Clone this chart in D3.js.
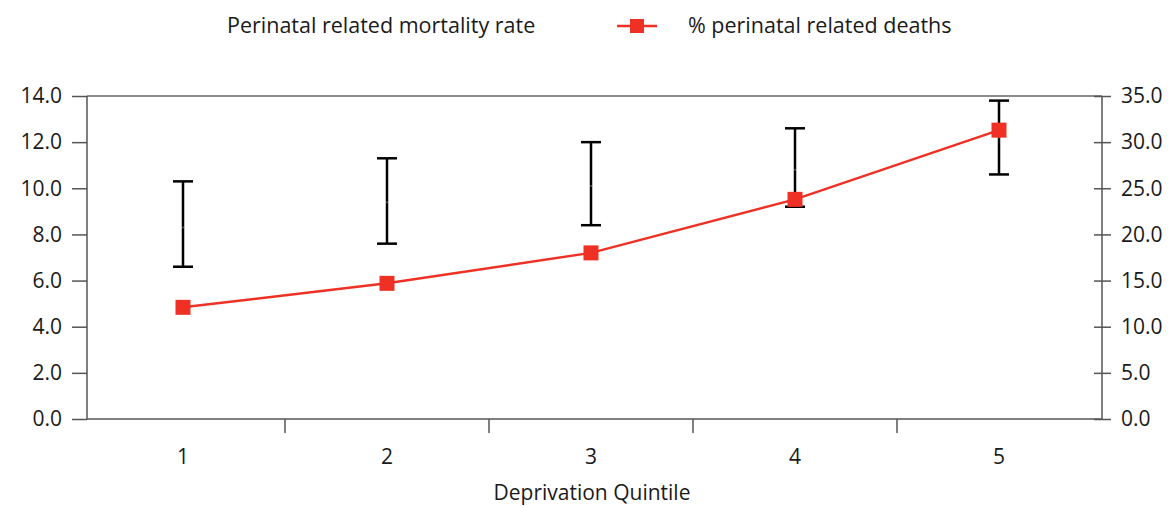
<!DOCTYPE html>
<html lang="en">
<head>
    <meta charset="UTF-8">
    <title>Perinatal related mortality by deprivation quintile</title>
    <script src="https://d3js.org/d3.v7.min.js"></script>
    <style>
        body { margin: 0; background: #fff; }
        text { font-family: "Open Sans", "Noto Sans", sans-serif; fill: #1a1a1a; }
    </style>
</head>
<body>
<div id="chart"></div>
<script>
    // values
    const quintiles = ["1", "2", "3", "4", "5"];
    const rate = [8.3, 9.4, 10.1, 10.8, 12.2];
    const rateLow = [6.6, 7.6, 8.4, 9.2, 10.6];
    const rateHigh = [10.3, 11.3, 12.0, 12.6, 13.8];
    const pctDeaths = [12.1, 14.7, 18.0, 23.8, 31.3];
    const leftTicks = [0, 2, 4, 6, 8, 10, 12, 14];
    const rightTicks = [0, 5, 10, 15, 20, 25, 30, 35];

    const width = 1175, height = 507;
    const m = {left: 87, right: 73, top: 96, bottom: 88};
    const red = "#ee3124";
    const fs = "21px";

    const svg = d3.select("#chart").append("svg")
        .attr("width", width)
        .attr("height", height);

    // the category bands sit a little left of the plot box
    const x = d3.scaleBand().domain(quintiles).range([81, 1101]);
    const yL = d3.scaleLinear().domain([0, 14]).range([height - m.bottom, m.top]);
    const yR = d3.scaleLinear().domain([0, 35]).range([height - m.bottom, m.top]);
    const cx = d => x(d) + x.bandwidth() / 2;

    // frame top line
    svg.append("line")
        .attr("x1", m.left).attr("x2", width - m.right)
        .attr("y1", m.top).attr("y2", m.top)
        .attr("stroke", "#666").attr("stroke-width", 1.5);

    // left axis
    const gl = svg.append("g")
        .attr("transform", `translate(${m.left},0)`)
        .call(d3.axisLeft(yL).tickValues(leftTicks).tickFormat(d3.format(".1f")).tickSize(15).tickPadding(10));

    // right axis, ticks cross the line
    const gr = svg.append("g")
        .attr("transform", `translate(${width - m.right},0)`)
        .call(d3.axisRight(yR).tickValues(rightTicks).tickFormat(d3.format(".1f")).tickSize(9).tickPadding(10));
    gr.selectAll(".tick line").attr("x1", -8);

    // bottom axis: ticks between categories
    const gb = svg.append("g")
        .attr("transform", `translate(0,${height - m.bottom})`)
        .call(d3.axisBottom(x).tickSize(0).tickPadding(30));
    gb.select(".domain").attr("d", `M${m.left},0H${width - m.right}`);
    gb.selectAll(".tick").filter((d, i) => i > 0).append("line")
        .attr("x1", -x.bandwidth() / 2).attr("x2", -x.bandwidth() / 2)
        .attr("y1", 0).attr("y2", 14)
        .attr("stroke", "#555");

    [gl, gr, gb].forEach(g => {
        g.selectAll(".domain").attr("stroke", "#555").attr("stroke-width", 1.5);
        g.selectAll(".tick line").attr("stroke", "#555").attr("stroke-width", 1.5);
        g.selectAll("text").style("font-size", fs).attr("fill", "#1a1a1a");
    });
    gl.select(".domain").attr("d", `M0,${m.top}V${height - m.bottom}`);
    gr.select(".domain").attr("d", `M0,${m.top}V${height - m.bottom}`);

    svg.append("text")
        .attr("x", 592)
        .attr("y", 500)
        .attr("text-anchor", "middle")
        .style("font-size", fs)
        .text("Deprivation Quintile");

    // error bars for the mortality rate
    const eb = svg.append("g").selectAll("g")
        .data(quintiles)
        .join("g");
    eb.append("line")
        .attr("x1", cx).attr("x2", cx)
        .attr("y1", (d, i) => yL(rateLow[i])).attr("y2", (d, i) => yL(rateHigh[i]))
        .attr("stroke", "#000").attr("stroke-width", 2.5);
    eb.append("line")
        .attr("x1", d => cx(d) - 10).attr("x2", d => cx(d) + 10)
        .attr("y1", (d, i) => yL(rateHigh[i])).attr("y2", (d, i) => yL(rateHigh[i]))
        .attr("stroke", "#000").attr("stroke-width", 2.5);
    eb.append("line")
        .attr("x1", d => cx(d) - 10).attr("x2", d => cx(d) + 10)
        .attr("y1", (d, i) => yL(rateLow[i])).attr("y2", (d, i) => yL(rateLow[i]))
        .attr("stroke", "#000").attr("stroke-width", 2.5);
    eb.append("circle")
        .attr("cx", cx).attr("cy", (d, i) => yL(rate[i]))
        .attr("r", 1).attr("fill", "#555");

    // % perinatal related deaths line
    const line = d3.line().x(d => cx(d[0])).y(d => yR(d[1]));
    svg.append("path")
        .datum(quintiles.map((q, i) => [q, pctDeaths[i]]))
        .attr("d", line)
        .attr("fill", "none")
        .attr("stroke", red)
        .attr("stroke-width", 2.5);
    svg.append("g").selectAll("rect")
        .data(quintiles)
        .join("rect")
        .attr("x", d => cx(d) - 7.5)
        .attr("y", (d, i) => yR(pctDeaths[i]) - 7.5)
        .attr("width", 15).attr("height", 15)
        .attr("fill", red);

    // legend
    const lg = svg.append("g");
    lg.append("text").attr("x", 227).attr("y", 33)
        .style("font-size", "21.5px")
        .text("Perinatal related mortality rate");
    lg.append("line").attr("x1", 617).attr("x2", 657).attr("y1", 26).attr("y2", 26)
        .attr("stroke", red).attr("stroke-width", 2.5);
    lg.append("rect").attr("x", 630).attr("y", 19).attr("width", 14).attr("height", 14)
        .attr("fill", red);
    lg.append("text").attr("x", 688).attr("y", 33)
        .style("font-size", "21.5px")
        .text("% perinatal related deaths");
</script>
</body>
</html>
